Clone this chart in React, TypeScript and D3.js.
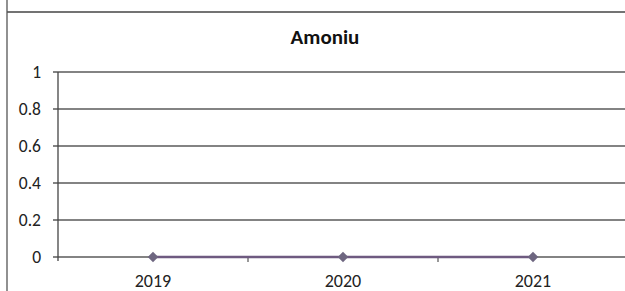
import { useEffect, useRef } from 'react';
import * as d3 from 'd3';

const years = ['2019', '2020', '2021'];
const amoniu = [0, 0, 0];
const yTicks = [0, 0.2, 0.4, 0.6, 0.8, 1];
const title = 'Amoniu';

export default function App() {
  const ref = useRef<SVGSVGElement | null>(null);
  useEffect(() => {
    if (!ref.current) return;
    const svg = d3.select(ref.current);
    svg.selectAll('*').remove();
    const W = 625, H = 291;
    const font = 'Carlito, "Open Sans", "Liberation Sans", sans-serif';
    const x = d3.scaleBand().domain(years).range([58, 628]);
    const y = d3.scaleLinear().domain([0, 1]).range([257, 72]);

    // outer frame (cropped chart border)
    svg.append('line').attr('x1', 7).attr('x2', W).attr('y1', 12).attr('y2', 12)
      .attr('stroke', '#444').attr('stroke-width', 1.4);
    svg.append('line').attr('x1', 7).attr('x2', 7).attr('y1', 0).attr('y2', H)
      .attr('stroke', '#555').attr('stroke-width', 1.3);

    svg.append('text').attr('x', 325).attr('y', 44).attr('text-anchor', 'middle')
      .style('font-family', font).style('font-size', '21px').style('font-weight', 'bold')
      .attr('fill', '#111').text(title);

    // gridlines + y ticks
    const gy = svg.append('g');
    gy.selectAll('line.grid').data(yTicks).enter().append('line')
      .attr('x1', 53).attr('x2', W).attr('y1', d => y(d)).attr('y2', d => y(d))
      .attr('stroke', '#5a5a5a').attr('stroke-width', 1.3);
    gy.selectAll('text').data(yTicks).enter().append('text')
      .attr('x', 41).attr('y', d => y(d)).attr('dy', '0.35em').attr('text-anchor', 'end')
      .style('font-family', font).style('font-size', '17.5px').attr('fill', '#222')
      .text(d => String(d));

    // y axis line
    svg.append('line').attr('x1', 58).attr('x2', 58).attr('y1', y(1)).attr('y2', y(0) + 4)
      .attr('stroke', '#444').attr('stroke-width', 1.3);

    // x ticks at category boundaries
    const bounds = years.map(d => x(d) as number);
    svg.selectAll('line.xt').data(bounds.slice(1)).enter().append('line')
      .attr('x1', d => d).attr('x2', d => d).attr('y1', y(0)).attr('y2', y(0) + 5)
      .attr('stroke', '#555').attr('stroke-width', 1.2);
    svg.selectAll('text.xl').data(years).enter().append('text')
      .attr('x', d => (x(d) as number) + x.bandwidth() / 2).attr('y', 287)
      .attr('text-anchor', 'middle').style('font-family', font).style('font-size', '18px')
      .attr('fill', '#222').text(d => d);

    // series
    const cx = (d: string) => (x(d) as number) + x.bandwidth() / 2;
    const line = d3.line<number>().x((_, i) => cx(years[i])).y(v => y(v));
    svg.append('path').datum(amoniu).attr('d', line).attr('fill', 'none')
      .attr('stroke', '#6e5a80').attr('stroke-width', 2.5);
    const sym = d3.symbol().type(d3.symbolDiamond2).size(70);
    svg.selectAll('path.m').data(amoniu).enter().append('path')
      .attr('transform', (v, i) => `translate(${cx(years[i])},${y(v)})`)
      .attr('d', sym).attr('fill', '#6e6680');
  }, []);
  return <svg ref={ref} width={625} height={291} style={{ position: 'absolute', left: 0, top: 0 }} />;
}
